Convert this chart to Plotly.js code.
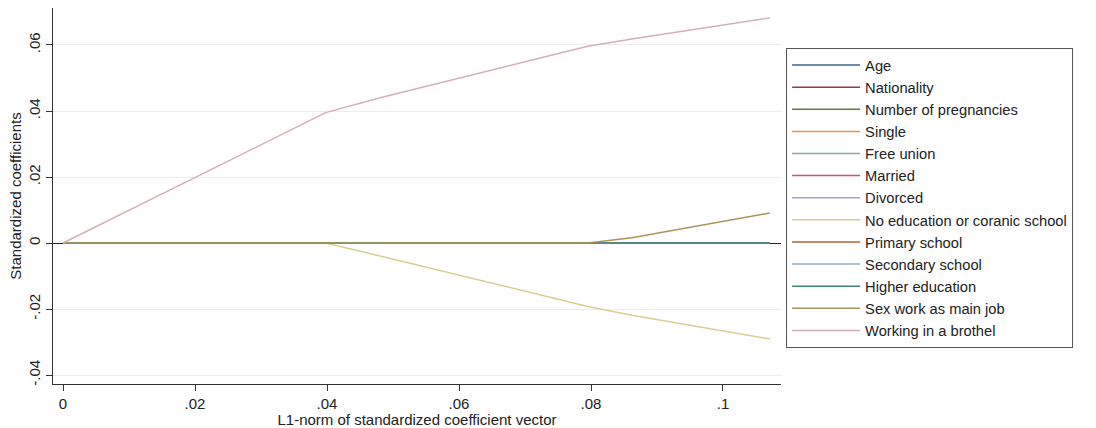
<!DOCTYPE html>
<html>
<head>
<meta charset="utf-8">
<script src="https://cdn.plot.ly/plotly-3.0.1.min.js"></script>
<style>html,body{margin:0;padding:0;background:#fff;}#chart{width:1096px;height:428px;}</style>
</head>
<body>
<div id="chart"></div>
<script>
// L1-norm knots of the lasso path
const l1norm = [0, 0.0398, 0.0482, 0.0795, 0.0862, 0.1071];

const seriesNames = [
  "Age", "Nationality", "Number of pregnancies", "Single", "Free union",
  "Married", "Divorced", "No education or coranic school", "Primary school",
  "Secondary school", "Higher education", "Sex work as main job", "Working in a brothel"
];

const age        = [0, 0, 0, 0, 0, 0];
const nationality= [0, 0, 0, 0, 0, 0];
const pregnancies= [0, 0, 0, 0, 0, 0];
const single     = [0, 0, 0, 0, 0, 0];
const freeUnion  = [0, 0, 0, 0, 0, 0];
const married    = [0, 0, 0, 0, 0, 0];
const divorced   = [0, 0, 0, 0, 0, 0];
const noEducation= [0, 0, -0.0040, -0.0192, -0.0219, -0.0291];
const primary    = [0, 0, 0, 0, 0, 0];
const secondary  = [0, 0, 0, 0, 0, 0];
const higher     = [0, 0, 0, 0, 0, 0];
const sexWork    = [0, 0, 0, 0, 0.0016, 0.0091];
const brothel    = [0, 0.0395, 0.0441, 0.0596, 0.0618, 0.0682];

const seriesValues = [age, nationality, pregnancies, single, freeUnion, married,
  divorced, noEducation, primary, secondary, higher, sexWork, brothel];

const colors = ["#3f6690", "#9a3a48", "#5f7f3c", "#ec9440", "#8fa8a0", "#d4506a",
  "#a49ee0", "#d6d092", "#b0603a", "#98aec4", "#3f8276", "#a8955a", "#d0b2b4"];

const xTickVals = [0, 0.02, 0.04, 0.06, 0.08, 0.1];
const xTickText = ["0", ".02", ".04", ".06", ".08", ".1"];
const yTickVals = [-0.04, -0.02, 0, 0.02, 0.04, 0.06];
const yTickText = ["-.04", "-.02", "0", ".02", ".04", ".06"];

const traces = seriesNames.map((name, i) => ({
  type: "scatter",
  mode: "lines",
  name: name,
  x: l1norm,
  y: seriesValues[i],
  line: {color: colors[i], width: 1.5},
  hoverinfo: "x+y+name"
}));

const layout = {
  width: 1096,
  height: 428,
  margin: {l: 53, r: 315, t: 8, b: 44, pad: 0},
  paper_bgcolor: "#ffffff",
  plot_bgcolor: "#ffffff",
  font: {family: "Liberation Sans, Arial, Helvetica, sans-serif", size: 15, color: "#222"},
  showlegend: true,
  legend: {
    x: 1.007, xanchor: "left",
    y: 0.8936, yanchor: "top",
    bordercolor: "#555", borderwidth: 1,
    bgcolor: "#ffffff",
    font: {size: 14.7, color: "#222"},
    itemwidth: 68,
    tracegroupgap: 0
  },
  xaxis: {
    range: [-0.00152, 0.10879],
    tickvals: xTickVals,
    ticktext: xTickText,
    ticks: "outside", ticklen: 6, tickcolor: "#333",
    showline: true, linecolor: "#333", linewidth: 1,
    showgrid: false, zeroline: false,
    title: {text: "L1-norm of standardized coefficient vector", font: {size: 15}, standoff: 0},
    tickfont: {size: 15}
  },
  yaxis: {
    range: [-0.0427, 0.0712],
    tickvals: yTickVals,
    ticktext: yTickText,
    tickangle: -90,
    ticks: "outside", ticklen: 6, tickcolor: "#333",
    showline: true, linecolor: "#333", linewidth: 1,
    showgrid: true, gridcolor: "#ececec", gridwidth: 1,
    zeroline: true, zerolinecolor: "#222", zerolinewidth: 1,
    title: {text: "Standardized coefficients", font: {size: 15}, standoff: 0},
    tickfont: {size: 15}
  }
};

Plotly.newPlot("chart", traces, layout, {displayModeBar: false, staticPlot: true});
</script>
</body>
</html>
